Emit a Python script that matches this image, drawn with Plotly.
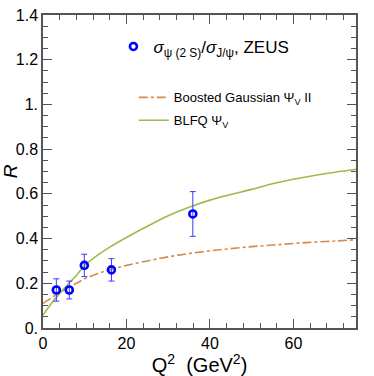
import plotly.graph_objects as go

# Data
q2_data = [3.2, 6.3, 9.9, 16.4, 35.9]
r_data = [0.17, 0.17, 0.28, 0.26, 0.51]
r_err_plus = [0.05, 0.04, 0.05, 0.05, 0.10]
r_err_minus = [0.05, 0.04, 0.05, 0.05, 0.10]

q2_curve = [0, 2, 4, 6, 8, 10, 13, 16, 20, 25, 30, 35, 40, 45, 50, 55, 60, 65, 70, 75]
r_gauss = [0.11, 0.135, 0.16, 0.18, 0.20, 0.22, 0.243, 0.26, 0.28, 0.30, 0.318, 0.333,
           0.345, 0.355, 0.364, 0.371, 0.378, 0.384, 0.389, 0.395]
r_blfq = [0.058, 0.11, 0.155, 0.196, 0.235, 0.28, 0.325, 0.362, 0.405, 0.455, 0.502, 0.54,
          0.572, 0.597, 0.62, 0.645, 0.665, 0.682, 0.697, 0.71]

x_tickvals = [0, 20, 40, 60]
x_ticktext = ["0", "20", "40", "60"]
y_tickvals = [0, 0.2, 0.4, 0.6, 0.8, 1.0, 1.2, 1.4]
y_ticktext = ["0.", "0.2", "0.4", "0.6", "0.8", "1.", "1.2", "1.4"]

FONT = "Liberation Sans, Arial, sans-serif"
ORANGE = "#d68a4c"
GREEN = "#9cbb4e"
BLUE = "#0000ff"

fig = go.Figure()

fig.add_trace(go.Scatter(
    x=q2_curve, y=r_gauss, mode="lines",
    line=dict(color=ORANGE, width=1.6, dash="dashdot", shape="spline"),
    name="Boosted Gaussian Ψ<sub>V</sub> II", legend="legend2", legendgroup="a",
))
fig.add_trace(go.Scatter(
    x=q2_curve, y=r_blfq, mode="lines",
    line=dict(color=GREEN, width=1.6, shape="spline"),
    name="BLFQ Ψ<sub>V</sub>", legend="legend2", legendgroup="b",
))
fig.add_trace(go.Scatter(
    x=q2_data, y=r_data, mode="markers",
    marker=dict(symbol="circle-open", size=7, color=BLUE, line=dict(width=2.6, color=BLUE)),
    error_y=dict(type="data", symmetric=False, array=r_err_plus, arrayminus=r_err_minus,
                 color="#3b3bff", thickness=1, width=3),
    name="<i>σ</i><sub>ψ (2 S)</sub>/<i>σ</i><sub>J/ψ</sub>, ZEUS", legend="legend",
    showlegend=True,
))

axis_common = dict(
    showline=True, linecolor="#555555", linewidth=1.5, mirror="allticks",
    ticks="inside", tickcolor="#555555", ticklen=9, tickwidth=1.2,
    showgrid=False, zeroline=False, automargin=False,
    tickfont=dict(family=FONT, size=16, color="black"),
)

fig.update_layout(
    width=374, height=376,
    margin=dict(l=43, r=18, t=15, b=48),
    paper_bgcolor="white", plot_bgcolor="white",
    font=dict(family=FONT, color="black"),
    showlegend=True,
    xaxis=dict(range=[0, 75], tickvals=x_tickvals, ticktext=x_ticktext,
               minor=dict(dtick=4, ticks="inside", ticklen=5, tickcolor="#555555", tickwidth=1.2),
               title=dict(text="Q<sup>2</sup>  (GeV<sup>2</sup>)", font=dict(family=FONT, size=20), standoff=0),
               **axis_common),
    yaxis=dict(range=[0, 1.4], tickvals=y_tickvals, ticktext=y_ticktext,
               minor=dict(dtick=0.05, ticks="inside", ticklen=5, tickcolor="#555555", tickwidth=1.2),
               title=dict(text="<i>R</i>", font=dict(family=FONT, size=19), standoff=2),
               **axis_common),
    legend=dict(x=0.225, y=0.898, xanchor="left", yanchor="middle", bgcolor="rgba(0,0,0,0)",
                font=dict(family=FONT, size=17)),
    legend2=dict(x=0.29, y=0.70, xanchor="left", yanchor="middle", bgcolor="rgba(0,0,0,0)",
                 font=dict(family=FONT, size=13), tracegroupgap=3),
)

fig.write_html(
    "out.html",
    config={"displayModeBar": False},
    post_script="document.body.style.margin='0';document.body.style.overflow='hidden';window.scrollTo(0,0);",
)
